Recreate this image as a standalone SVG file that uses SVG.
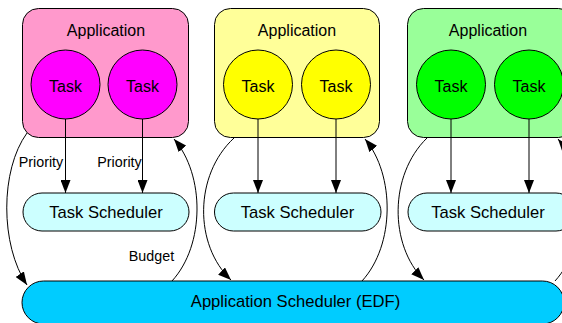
<svg xmlns="http://www.w3.org/2000/svg" width="562" height="323" viewBox="0 0 562 323">
<style>
text{font-family:"Liberation Sans",Arial,sans-serif;fill:#000;text-anchor:middle}
.t{font-size:16px}
.s{font-size:16.6px}
.l{font-size:14.3px}
.box{stroke:#000;stroke-width:1}
.ln{fill:none;stroke:#000;stroke-width:1}
</style>
<defs>
<marker id="ah" markerUnits="userSpaceOnUse" markerWidth="13" markerHeight="10" refX="13" refY="5" orient="auto">
<path d="M0,0 L13,5 L0,10 Z" fill="#000"/>
</marker>
</defs>
<rect width="562" height="323" fill="#fff"/>
<g id="app1">
<rect class="box" x="22.5" y="8.5" width="166" height="129" rx="16" fill="#FF99CC"/>
<text class="t" x="106" y="36">Application</text>
</g>
<g id="task1a"><circle class="box" cx="65.5" cy="84.5" r="34.5" fill="#FF00FF"/><text class="t" x="65.5" y="92">Task</text></g>
<g id="task1b"><circle class="box" cx="142.5" cy="84.5" r="34.5" fill="#FF00FF"/><text class="t" x="142.5" y="92">Task</text></g>
<g id="app2">
<rect class="box" x="214.5" y="8.5" width="165" height="129" rx="16" fill="#FFFF99"/>
<text class="t" x="297" y="36">Application</text>
</g>
<g id="task2a"><circle class="box" cx="258" cy="84.5" r="34.5" fill="#FFFF00"/><text class="t" x="258" y="92">Task</text></g>
<g id="task2b"><circle class="box" cx="336" cy="84.5" r="34.5" fill="#FFFF00"/><text class="t" x="336" y="92">Task</text></g>
<g id="app3">
<rect class="box" x="407.5" y="8.5" width="167" height="129" rx="16" fill="#99FF99"/>
<text class="t" x="488" y="36">Application</text>
</g>
<g id="task3a"><circle class="box" cx="451" cy="84.5" r="34.5" fill="#00FF00"/><text class="t" x="451" y="92">Task</text></g>
<g id="task3b"><circle class="box" cx="529" cy="84.5" r="34.5" fill="#00FF00"/><text class="t" x="529" y="92">Task</text></g>
<g id="ts1"><rect class="box" x="23" y="193" width="166" height="38" rx="19" fill="#CCFFFF"/><text class="s" x="106" y="218">Task Scheduler</text></g>
<g id="ts2"><rect class="box" x="214.5" y="193" width="166.5" height="38" rx="19" fill="#CCFFFF"/><text class="s" x="297.5" y="218">Task Scheduler</text></g>
<g id="ts3"><rect class="box" x="408" y="193" width="167" height="38" rx="19" fill="#CCFFFF"/><text class="s" x="488" y="218">Task Scheduler</text></g>
<g id="appsched"><rect class="box" x="22" y="281" width="542" height="43" rx="21.5" fill="#00CCFF"/><text class="s" x="295.5" y="307">Application Scheduler (EDF)</text></g>
<g id="connectors">
<path class="ln" d="M65.5,119 V193" marker-end="url(#ah)"/>
<path class="ln" d="M142.5,119 V193" marker-end="url(#ah)"/>
<path class="ln" d="M258,119 V193" marker-end="url(#ah)"/>
<path class="ln" d="M336,119 V193" marker-end="url(#ah)"/>
<path class="ln" d="M451,119 V193" marker-end="url(#ah)"/>
<path class="ln" d="M529,119 V193" marker-end="url(#ah)"/>
<path class="ln" d="M27,133 C0,170 0,245 27,285" marker-end="url(#ah)"/>
<path class="ln" d="M172,281 C205,245 205,175 174,139" marker-end="url(#ah)"/>
<path class="ln" d="M234,138 C194,175 194,245 231,280" marker-end="url(#ah)"/>
<path class="ln" d="M362,281 C395,245 395,175 365,139" marker-end="url(#ah)"/>
<path class="ln" d="M427,138 C389,175 389,245 424,280" marker-end="url(#ah)"/>
<path class="ln" d="M555,281 C588,245 588,175 558,139" marker-end="url(#ah)"/>
<text class="l" x="41" y="167">Priority</text>
<text class="l" x="119.5" y="167">Priority</text>
<text class="l" x="151.5" y="261">Budget</text>
</g>
</svg>
